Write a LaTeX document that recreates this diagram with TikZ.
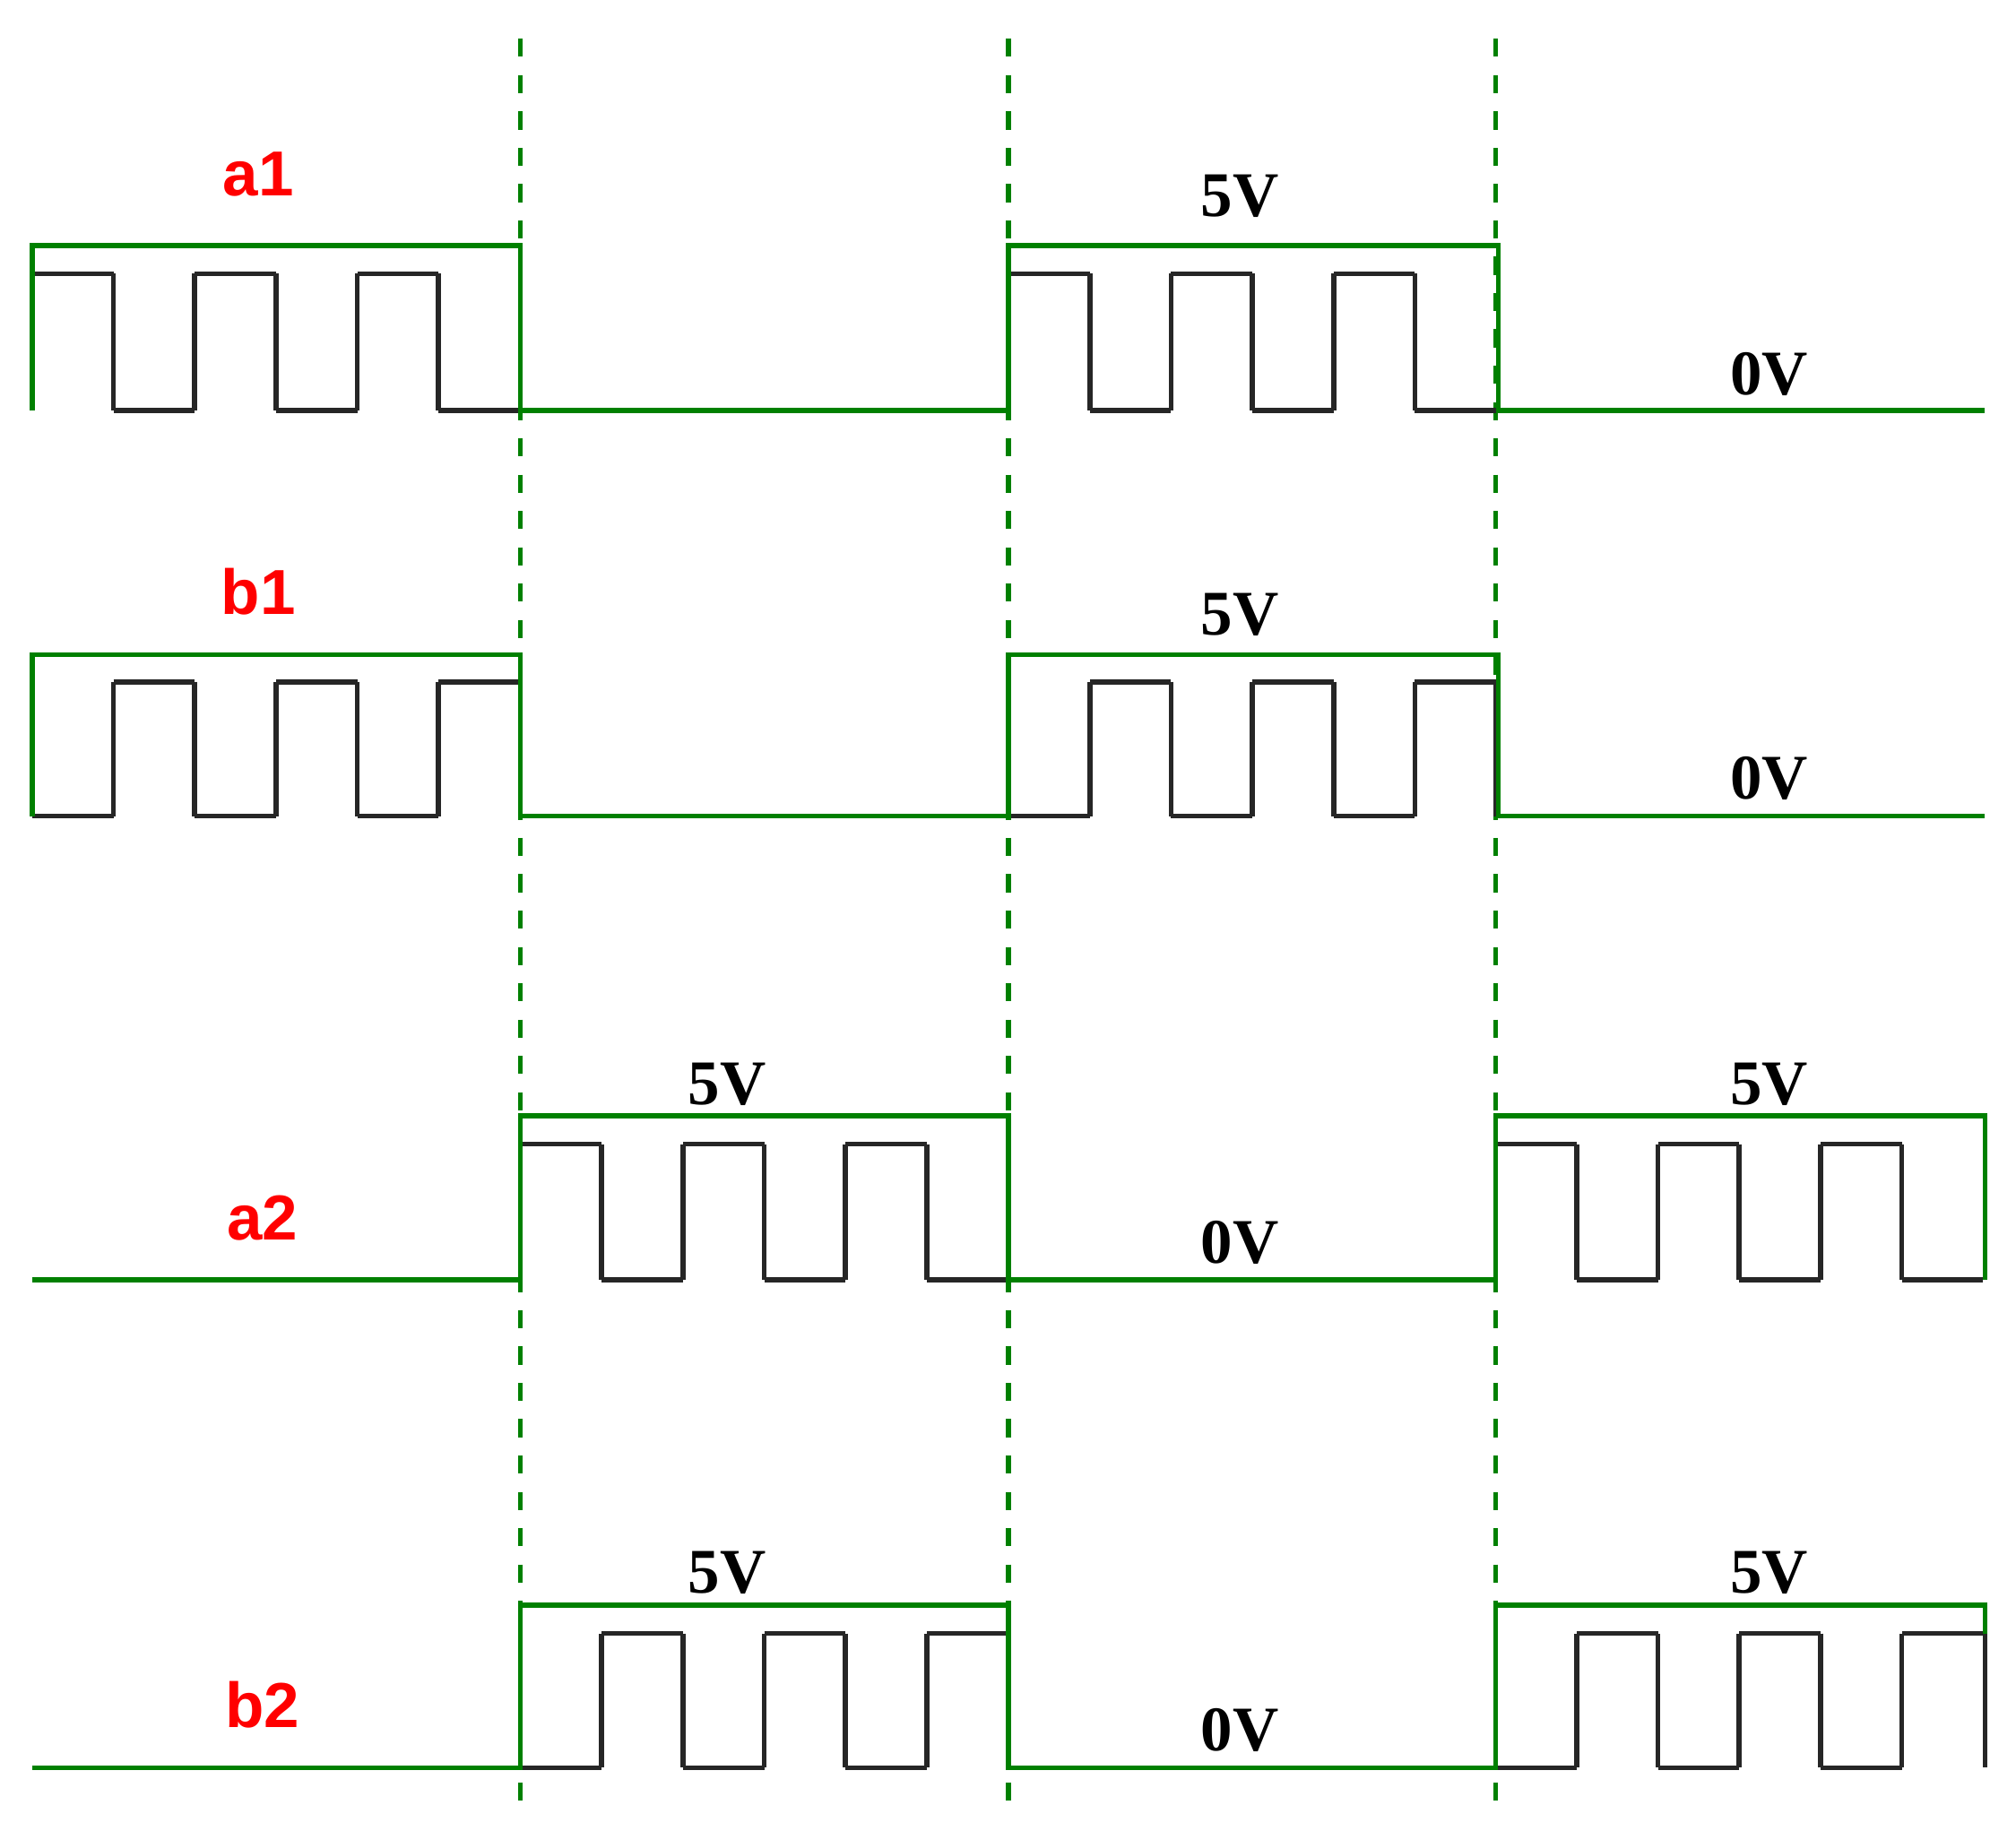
\documentclass[tikz,border=0pt]{standalone}
\usepackage{fontspec}
\setmainfont{Liberation Serif}
\setsansfont{Liberation Sans}
\begin{document}
\begin{tikzpicture}[x=0.01cm,y=-0.01cm,
  env/.style={draw=green!50!black,line width=1.1pt},
  sq/.style={draw=black!85,line width=1.1pt},
  grid/.style={draw=green!50!black,line width=1.1pt,dash pattern=on 4pt off 4pt},
  sig/.style={text=red,font=\sffamily\bfseries\fontsize{14}{16}\selectfont},
  volt/.style={font=\bfseries\fontsize{14}{16}\selectfont}]
\useasboundingbox (0,0) rectangle (1561,1418);
% dashed grid
\foreach \x/\n in {403/g1,781/g2,1158/g3}{
  \coordinate (\n t) at (\x,30); \coordinate (\n b) at (\x,1400);
  \draw[grid] (\n t) -- (\n b);}
% square waves: #start x, top y, bottom y, starts high?
\newcommand{\wave}[4]{%
  \foreach \i in {0,...,5}{%
    \pgfmathsetmacro{\xa}{#1+\i*62.9}%
    \pgfmathsetmacro{\xb}{#1+(\i+1)*62.9}%
    \pgfmathtruncatemacro{\hi}{mod(\i+#4,2)}%
    \ifnum\hi=1
      \draw[sq] (\xa,#2) -- (\xb,#2);
    \else
      \draw[sq] (\xa,#3) -- (\xb,#3);
    \fi
    \ifnum\i>0 \draw[sq] (\xa,#2) -- (\xa,#3);\fi
  }}
% a1
\wave{25}{212}{318}{1}
\wave{781}{212}{318}{1}
\draw[env] (25,318) -- (25,190) -- (403,190) -- (403,318) -- (781,318) -- (781,190) -- (1160,190) -- (1160,318) -- (1537,318);
% b1
\wave{25}{528}{632}{0}
\wave{781}{528}{632}{0}
\draw[sq] (403,528)--(403,632) (1158,528)--(1158,632);
\draw[env] (25,632) -- (25,507) -- (403,507) -- (403,632) -- (781,632) -- (781,507) -- (1160,507) -- (1160,632) -- (1537,632);
% a2
\wave{403}{886}{991}{1}
\wave{1158}{886}{991}{1}
\draw[env] (25,991) -- (403,991) -- (403,864) -- (781,864) -- (781,991) -- (1158,991) -- (1158,864) -- (1537,864) -- (1537,991);
% b2
\wave{403}{1265}{1369}{0}
\wave{1158}{1265}{1369}{0}
\draw[sq] (781,1265)--(781,1369) (1537,1265)--(1537,1369);
\draw[env] (25,1369) -- (403,1369) -- (403,1243) -- (781,1243) -- (781,1369) -- (1158,1369) -- (1158,1243) -- (1537,1243) -- (1537,1265);
% labels
\node[sig] (la1) at (200,135) {a1};
\node[sig] (lb1) at (200,458) {b1};
\node[sig] (la2) at (203,943) {a2};
\node[sig] (lb2) at (203,1320) {b2};
\node[volt] (v1) at (960,152) {5V};
\node[volt] (v2) at (960,476) {5V};
\node[volt] (v3) at (563,840) {5V};
\node[volt] (v4) at (1370,840) {5V};
\node[volt] (v5) at (563,1218) {5V};
\node[volt] (v6) at (1370,1218) {5V};
\node[volt] (z1) at (1370,290) {0V};
\node[volt] (z2) at (1370,603) {0V};
\node[volt] (z3) at (960,962) {0V};
\node[volt] (z4) at (960,1340) {0V};
\end{tikzpicture}
\end{document}
